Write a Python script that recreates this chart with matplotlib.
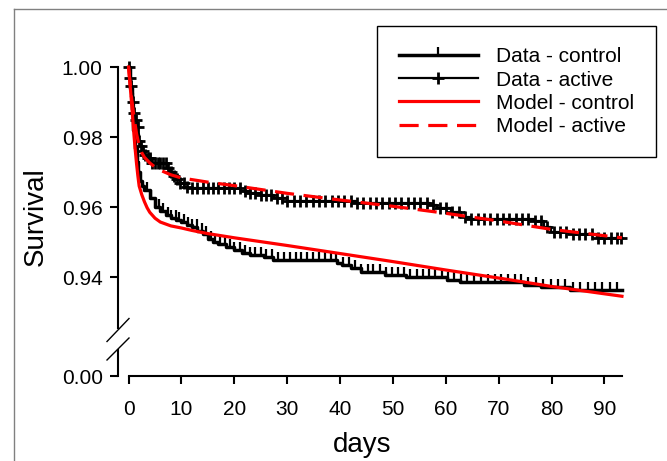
import numpy as np
import matplotlib
matplotlib.use("Agg")
import matplotlib.pyplot as plt
from matplotlib.lines import Line2D
from matplotlib.path import Path

plt.rcParams['font.family'] = ['Liberation Sans', 'DejaVu Sans']

# Data - control (Kaplan-Meier, bậc thang)
ctrl_t = [0, 0.3, 0.6, 0.9, 1.2, 1.5, 1.8, 2.1, 2.5, 3.0, 4.0, 5.0, 6.0, 7.0, 8.0,
          9.0, 10.0, 11.0, 12.0, 13.0, 14.0, 15.0, 16.0, 17.0, 18.5, 20.0, 21.5,
          23.0, 25.6, 27.4, 39.5, 40.3, 42.0, 43.9, 48.5, 52.5, 60.2, 62.7, 74.7,
          77.9, 83.5]
ctrl_s = [1.0, 0.994, 0.988, 0.982, 0.977, 0.973, 0.970, 0.9675, 0.966, 0.965,
          0.9625, 0.960, 0.9588, 0.9578, 0.957, 0.9563, 0.9556, 0.955, 0.9542,
          0.9532, 0.9522, 0.951, 0.9499, 0.9493, 0.9486, 0.9478, 0.9468, 0.9462,
          0.9457, 0.9449, 0.9441, 0.9434, 0.9425, 0.9415, 0.9406, 0.940, 0.9391,
          0.9386, 0.9378, 0.9371, 0.9363]
ctrl_cens = [3.5, 4.3, 5.1, 5.8, 6.6, 7.4, 8.0, 8.9, 9.6, 10.4, 11.2, 12.0, 12.9,
             13.8, 14.6, 15.5, 16.4, 17.3, 18.2, 19.1, 20.0, 21.0, 22.0, 23.0,
             24.0, 25.0, 26.0, 27.2, 28.3, 29.4, 30.5, 31.6, 32.7, 33.8, 34.9,
             36.0, 37.1, 38.2, 39.3, 40.5, 41.6, 42.8, 44.0, 45.2, 46.3, 47.5,
             48.6, 49.8, 51.0, 52.1, 53.3, 54.5, 55.7, 56.8, 58.0, 59.2, 60.4,
             61.6, 62.8, 64.0, 65.3, 66.6, 67.9, 69.2, 70.5, 71.8, 73.0, 74.3,
             75.6, 77.0, 78.4, 79.8, 81.2, 82.6, 84.0, 85.4, 86.8, 88.2, 89.6,
             91.0, 92.4]

# Data - active
act_t = [0, 0.2, 0.4, 0.6, 0.8, 1.0, 1.2, 1.5, 1.8, 2.0, 2.3, 2.7, 3.0, 3.5, 4.2,
         7.2, 7.8, 8.4, 9.0, 9.8, 10.5, 11.2, 21.2, 23.0, 25.0, 27.5, 30.0, 43.0,
         57.0, 58.3, 60.9, 62.8, 64.7, 76.6, 78.5, 79.8, 83.6, 88.6]
act_s = [1.0, 0.997, 0.9945, 0.9925, 0.990, 0.987, 0.985, 0.983, 0.981, 0.979,
         0.9775, 0.976, 0.975, 0.974, 0.9725, 0.9712, 0.970, 0.969, 0.968, 0.9668,
         0.9658, 0.9653, 0.9645, 0.964, 0.9633, 0.9625, 0.9617, 0.9612, 0.9605,
         0.9596, 0.9586, 0.9572, 0.9566, 0.956, 0.9543, 0.9529, 0.9523, 0.9512]
act_cens = [0.0, 0.2, 0.5, 0.8, 1.1, 1.4, 1.7, 2.0, 2.4, 2.8, 3.2, 3.6, 4.0, 4.5,
            5.0, 5.5, 6.0, 6.5, 7.0, 7.5, 8.0, 8.6, 9.2, 9.8, 10.4, 11.0, 12.0,
            13.0, 14.0, 15.0, 16.0, 17.0, 18.0, 19.0, 20.0, 21.0, 22.0, 23.0,
            24.0, 25.0, 26.0, 27.0, 28.0, 29.0, 30.0, 31.2, 32.4, 33.6, 34.8,
            36.0, 37.2, 38.4, 39.6, 40.8, 42.0, 43.2, 44.4, 45.6, 46.8, 48.0,
            49.2, 50.4, 51.6, 52.8, 54.0, 55.2, 56.4, 57.6, 58.8, 60.0, 61.2,
            62.4, 63.6, 64.8, 66.0, 67.2, 68.4, 69.6, 70.8, 72.0, 73.2, 74.4,
            75.6, 76.8, 78.0, 79.2, 80.4, 81.6, 82.8, 84.0, 85.2, 86.4, 87.6,
            88.8, 90.0, 91.2, 92.4, 93.2]

# Model
mod_ctrl_t = [0, 0.25, 0.5, 0.75, 1.0, 1.25, 1.5, 1.75, 2.0, 2.5, 3.0, 3.5, 4.0,
              5.0, 6.0, 8.0, 10.0, 12.0, 15.0, 20.0, 30.0, 40.0, 50.0, 60.0,
              70.0, 80.0, 93.3]
mod_ctrl_s = [1.0, 0.9955, 0.991, 0.986, 0.981, 0.9765, 0.9725, 0.969, 0.966,
              0.9635, 0.9615, 0.9598, 0.9585, 0.9568, 0.9557, 0.9546, 0.954,
              0.9533, 0.9524, 0.9512, 0.949, 0.9467, 0.9444, 0.942, 0.9397,
              0.9373, 0.9345]
mod_act_t = [0, 0.25, 0.5, 0.75, 1.0, 1.5, 2.0, 2.5, 3.0, 4.0, 5.0, 6.0, 8.0,
             10.0, 15.0, 20.0, 30.0, 40.0, 50.0, 60.0, 70.0, 80.0, 93.3]
mod_act_s = [1.0, 0.996, 0.992, 0.989, 0.986, 0.981, 0.9775, 0.9755, 0.9742,
             0.9726, 0.9714, 0.9705, 0.9692, 0.9683, 0.9671, 0.9661, 0.9639,
             0.962, 0.9602, 0.9582, 0.956, 0.9536, 0.9512]

x_ticks = [0, 10, 20, 30, 40, 50, 60, 70, 80, 90]
y_ticks_top = [0.94, 0.96, 0.98, 1.00]
t_end = 93.3
labels = ["Data - control", "Data - active", "Model - control", "Model - active"]

W, H = 667, 461
fig = plt.figure(figsize=(W / 100, H / 100), dpi=100)


def fx(px):
    return px / W


def fy(py):
    return 1 - py / H


ax = fig.add_axes([fx(118), fy(328), fx(623) - fx(118), fy(67) - fy(328)])
axb = fig.add_axes([fx(118), fy(376), fx(623) - fx(118), fy(350) - fy(376)])

tick_up = Path([(0, 0), (0, 1)], [Path.MOVETO, Path.LINETO])


def step_at(t, s, when):
    idx = np.searchsorted(t, when, side='right') - 1
    return np.asarray(s)[idx]


# dữ liệu: bậc thang + dấu kiểm duyệt
ax.step(ctrl_t + [t_end], ctrl_s + [ctrl_s[-1]], where='post', color='k', lw=2.5, clip_on=False)
ax.plot(ctrl_cens, step_at(ctrl_t, ctrl_s, ctrl_cens), ls='none', color='k',
        marker=tick_up, ms=12, mew=1.6, clip_on=False)
ax.step(act_t + [t_end], act_s + [act_s[-1]], where='post', color='k', lw=1.6, clip_on=False)
ax.plot(act_cens, step_at(act_t, act_s, act_cens), ls='none', color='k',
        marker='+', ms=9, mew=2.0, clip_on=False)

# mô hình
ax.plot(mod_ctrl_t, mod_ctrl_s, color='#ff0000', lw=2.3, clip_on=False)
ax.plot(mod_act_t, mod_act_s, color='#ff0000', lw=2.3, dashes=(6, 3), clip_on=False)

for a in (ax, axb):
    a.set_xlim(-2, 93.5)
    a.spines['top'].set_visible(False)
    a.spines['right'].set_visible(False)
    a.spines['left'].set_linewidth(1.5)
    a.spines['bottom'].set_linewidth(1.5)
    a.patch.set_visible(False)
    a.tick_params(axis='y', length=6, width=1.5, labelsize=15, pad=5)

ax.set_ylim(0.94 - 51 / 3500, 1.0)
ax.set_yticks(y_ticks_top)
ax.set_yticklabels([f"{v:.2f}" for v in y_ticks_top])
ax.spines['bottom'].set_visible(False)
ax.set_xticks([])

axb.set_ylim(0, 1)
axb.set_yticks([0])
axb.set_yticklabels(["0.00"])
axb.set_xticks(x_ticks)
axb.spines['bottom'].set_bounds(0, t_end)
axb.tick_params(axis='x', length=6, width=1.5, labelsize=15, pad=11)

# dấu ngắt trục
for y0, y1 in [(341.5, 318.5), (360, 338)]:
    fig.add_artist(Line2D([fx(107), fx(129)], [fy(y0), fy(y1)], color='k', lw=1.0))

fig.text(fx(36), fy(217), "Survival", rotation=90, ha='center', va='center', fontsize=20)
fig.text(fx(362), fy(452), "days", ha='center', va='baseline', fontsize=20)

# khung ngoài
fig.add_artist(Line2D([fx(14), fx(14)], [fy(9), 0], color='#808080', lw=1.0))
fig.add_artist(Line2D([fx(14), 1], [fy(9), fy(9)], color='#808080', lw=1.0))

handles = [
    Line2D([], [], color='k', lw=2.5, marker=tick_up, ms=12, mew=1.6),
    Line2D([], [], color='k', lw=1.6, marker='+', ms=9, mew=2.0),
    Line2D([], [], color='#ff0000', lw=2.3),
    Line2D([], [], color='#ff0000', lw=2.3, dashes=(6, 3)),
]
leg = fig.legend(handles, labels, loc='upper right', bbox_to_anchor=(fx(656), fy(26)),
                 frameon=True, fancybox=False, edgecolor='k', framealpha=1,
                 fontsize=15, handlelength=3.8, handletextpad=0.9, borderpad=1.03,
                 labelspacing=0.2, borderaxespad=0, numpoints=1)
leg.get_frame().set_linewidth(1.0)

fig.savefig("out.png", dpi=100)
